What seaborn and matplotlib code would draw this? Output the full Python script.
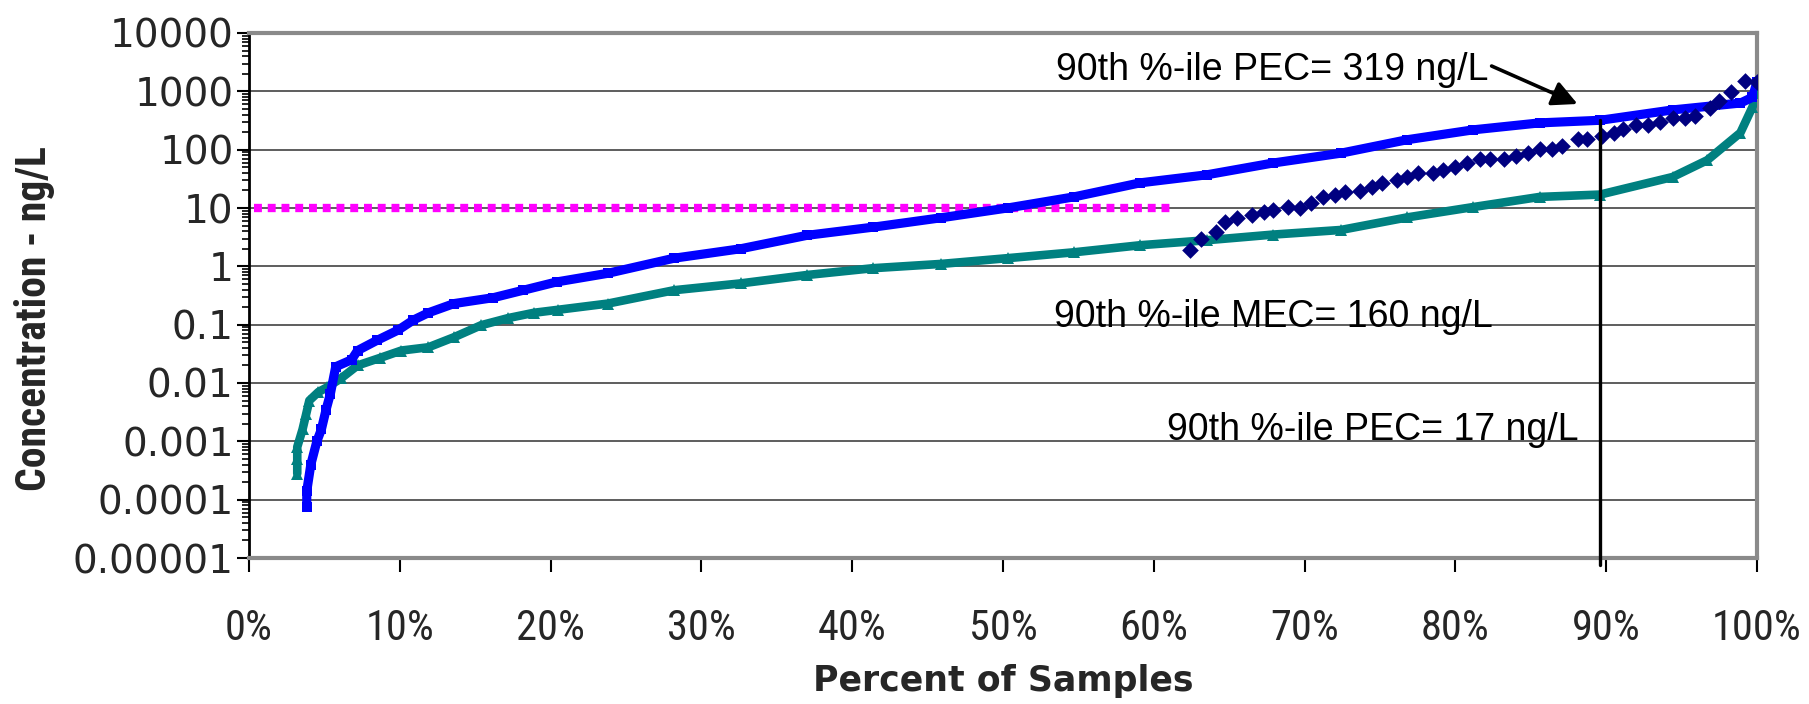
import numpy as np
import pandas as pd
import matplotlib
matplotlib.use("Agg")
import matplotlib.pyplot as plt
import seaborn as sns
from matplotlib.ticker import FixedLocator, FixedFormatter, LogLocator, NullFormatter
from matplotlib import font_manager
from matplotlib.font_manager import FontProperties

# ---------------- data ----------------
pec_pct = [3.83, 3.83, 4.1, 4.5, 4.8, 5.1, 5.4, 5.75, 6.8, 7.2, 8.5, 9.9, 10.9, 11.9,
           13.6, 16.2, 18.2, 20.4, 23.8, 28.2, 32.6, 37.0, 41.4, 45.9, 50.3, 54.7,
           59.1, 63.5, 67.9, 72.4, 76.8, 81.2, 85.6, 89.6, 94.4, 98.9, 99.7, 100.0]
pec_val = [7.5e-5, 1.4e-4, 4e-4, 1e-3, 1.6e-3, 3.4e-3, 6.6e-3, 0.019, 0.025, 0.036,
           0.054, 0.081, 0.12, 0.16, 0.23, 0.29, 0.39, 0.54, 0.76, 1.38, 2.0, 3.4,
           4.7, 6.8, 10, 15.5, 27, 37, 59, 87, 148, 219, 288, 319, 480, 630, 790, 1450]

pec2_pct = [3.2, 3.2, 3.2, 3.55, 3.8, 4.0, 4.6, 5.2, 6.1, 7.2, 8.7, 10.1, 11.9, 13.6,
            15.4, 17.2, 18.9, 20.5, 23.8, 28.2, 32.6, 37.0, 41.4, 45.9, 50.3, 54.7,
            59.1, 63.5, 67.9, 72.4, 76.8, 81.2, 85.6, 89.6, 94.4, 96.7, 98.9, 99.7, 100.0]
pec2_val = [2.8e-4, 5e-4, 8e-4, 1.6e-3, 3e-3, 5e-3, 7e-3, 8.5e-3, 0.012, 0.02, 0.027,
            0.036, 0.041, 0.061, 0.098, 0.13, 0.16, 0.18, 0.23, 0.39, 0.51, 0.71, 0.93,
            1.1, 1.38, 1.74, 2.3, 2.8, 3.5, 4.2, 6.9, 10.4, 15.5, 17, 34, 66, 195, 540, 940]

mec_pct = [62.4, 63.1, 64.1, 64.7, 65.5, 66.5, 67.3, 67.9, 68.9, 69.7, 70.4, 71.2, 72.0,
           72.7, 73.7, 74.5, 75.1, 76.1, 76.8, 77.5, 78.5, 79.2, 80.0, 80.8, 81.6, 82.3,
           83.2, 84.0, 84.8, 85.6, 86.4, 87.1, 88.1, 88.7, 89.7, 90.5, 91.1, 92.0, 92.8,
           93.6, 94.4, 95.2, 95.9, 96.9, 97.5, 98.3, 99.2, 100.0]
mec_val = [1.9, 3.0, 3.9, 5.8, 6.7, 7.6, 8.5, 9.2, 10.3, 10, 12, 15.5, 17,
           18.8, 19.5, 23, 27, 30, 34, 40, 40, 45, 50, 59, 69, 69,
           69, 78, 87, 102, 102, 115, 151, 151, 170, 193, 226, 264, 264,
           297, 348, 348, 377, 515, 680, 970, 1500, 1470]

limit_pct = [0.3, 61.4]
limit_val = [10, 10]

y_ticks = [1e4, 1e3, 1e2, 1e1, 1, 0.1, 0.01, 0.001, 0.0001, 0.00001]
y_labels = ["10000", "1000", "100", "10", "1", "0.1", "0.01", "0.001", "0.0001", "0.00001"]
x_ticks = [0, 10, 20, 30, 40, 50, 60, 70, 80, 90, 100]
x_labels = ["0%", "10%", "20%", "30%", "40%", "50%", "60%", "70%", "80%", "90%", "100%"]

p90_pct = 89.6
p90_val = 319


# ---------------- condensed font lookup ----------------
def find_condensed(bold=False):
    best = None
    for f in font_manager.fontManager.ttflist:
        nm = f.name
        st = str(f.stretch).lower()
        cond = ("condensed" in st and "extra" not in st and "ultra" not in st) \
            or ("Narrow" in nm) or ("Condensed" in nm and "Extra" not in nm)
        if not cond or "Mono" in nm or "Serif" in nm or "CJK" in nm:
            continue
        w = f.weight
        try:
            w = int(w)
        except Exception:
            w = 700 if "bold" in str(w).lower() else 400
        if bold and w < 600:
            continue
        if not bold and w >= 600:
            continue
        if str(f.style).lower() != "normal":
            continue
        score = 0
        for i, key in enumerate(["Liberation Sans Narrow", "Arial Narrow", "Roboto",
                                 "Noto Sans", "Open Sans", "DejaVu Sans", "Lato", "Inter"]):
            if nm.startswith(key):
                score = 10 - i
                break
        if best is None or score > best[0]:
            best = (score, f.fname)
    return best[1] if best else None


cond_reg = find_condensed(False)
cond_bold = find_condensed(True)

# ---------------- plot ----------------
sns.set_theme(style="white")
plt.rcParams["font.family"] = ["Liberation Sans", "DejaVu Sans"]
plt.rcParams["lines.scale_dashes"] = True

fig = plt.figure(figsize=(18.09, 7.04), dpi=100)
ax = fig.add_axes([249 / 1809, 1 - 558 / 704, 1508 / 1809, 525 / 704])

ax.set_yscale("log")
ax.set_ylim(1e-5, 1e4)
ax.set_xlim(0, 100)

df_pec = pd.DataFrame({"p": pec_pct, "v": pec_val})
df_pec2 = pd.DataFrame({"p": pec2_pct, "v": pec2_val})
df_mec = pd.DataFrame({"p": mec_pct, "v": mec_val})

(mline,) = ax.plot(limit_pct, limit_val, color="#FF00FF", zorder=3)
mline.set_linewidth(6.0)
mline.set_dashes((0.95, 0.7))
mline.set_dash_capstyle("butt")

sns.lineplot(data=df_pec2, x="p", y="v", ax=ax, color="#008080", linewidth=6.2,
             marker="^", markersize=8, markeredgewidth=0, sort=False,
             estimator=None, zorder=4)
sns.lineplot(data=df_pec, x="p", y="v", ax=ax, color="#0000FF", linewidth=6.6,
             marker="s", markersize=7, markeredgewidth=0, sort=False,
             estimator=None, zorder=5)
sns.scatterplot(data=df_mec, x="p", y="v", ax=ax, color="#000080", marker="D",
                s=72, linewidth=0, zorder=6)

# 90th percentile vertical line
ax.plot([p90_pct, p90_pct], [7.6e-6, p90_val], color="black", lw=2.4,
        clip_on=False, zorder=7)

# annotations
fs_ann = 27
ax.text(53.5, 1563, "90th %-ile PEC= 319 ng/L", fontsize=fs_ann, ha="left",
        va="baseline", color="black", zorder=8)
ax.text(53.4, 0.091, "90th %-ile MEC= 160 ng/L", fontsize=fs_ann, ha="left",
        va="baseline", color="black", zorder=8)
ax.text(60.9, 0.00105, "90th %-ile PEC= 17 ng/L", fontsize=fs_ann, ha="left",
        va="baseline", color="black", zorder=8)
ax.annotate("", xy=(88.1, 607), xytext=(82.4, 2717),
            arrowprops=dict(arrowstyle="-|>", color="black", lw=2.6,
                            mutation_scale=38, shrinkA=0, shrinkB=0), zorder=8)

# axes styling
ax.yaxis.set_major_locator(FixedLocator(y_ticks))
ax.yaxis.set_major_formatter(FixedFormatter(y_labels))
ax.yaxis.set_minor_locator(LogLocator(base=10, subs=np.arange(2, 10), numticks=100))
ax.yaxis.set_minor_formatter(NullFormatter())
ax.xaxis.set_major_locator(FixedLocator(x_ticks))
ax.xaxis.set_major_formatter(FixedFormatter(x_labels))

ax.tick_params(axis="y", which="major", left=True, direction="out", length=9,
               width=1.5, color="black", pad=2, labelsize=28)
ax.tick_params(axis="y", which="minor", left=True, direction="out", length=5,
               width=1.2, color="black")
ax.tick_params(axis="x", which="major", bottom=True, direction="out", length=10,
               width=1.5, color="black", pad=26)
for lab in ax.get_yticklabels():
    lab.set_fontfamily(["DejaVu Sans"])
xt_fp = FontProperties(fname=cond_reg, size=30.5) if cond_reg else \
    FontProperties(family="Liberation Sans", size=24)
for lab in ax.get_xticklabels():
    lab.set_fontproperties(xt_fp)

ax.yaxis.grid(True, which="major", color="#505050", lw=1.3)
ax.xaxis.grid(False)
ax.set_axisbelow(True)

ax.spines["left"].set_color("black")
ax.spines["left"].set_linewidth(2)
for s in ["top", "right", "bottom"]:
    ax.spines[s].set_color("#8a8a8a")
    ax.spines[s].set_linewidth(3)

ax.set_xlabel("Percent of Samples", fontsize=25, fontweight="bold",
              family=["DejaVu Sans"])
if cond_bold:
    ax.set_ylabel("Concentration - ng/L",
                  fontproperties=FontProperties(fname=cond_bold, size=30))
else:
    ax.set_ylabel("Concentration - ng/L", fontsize=22, fontweight="bold",
                  family=["DejaVu Sans"])
ax.xaxis.set_label_coords(0.5, (558 - 681) / 525)
ax.xaxis.label.set_va("center")
ax.yaxis.set_label_coords((34 - 249) / 1508, (558 - 319) / 525)
ax.yaxis.label.set_va("center")
ax.yaxis.label.set_ha("center")

fig.savefig("out.png", dpi=100, facecolor="white")
